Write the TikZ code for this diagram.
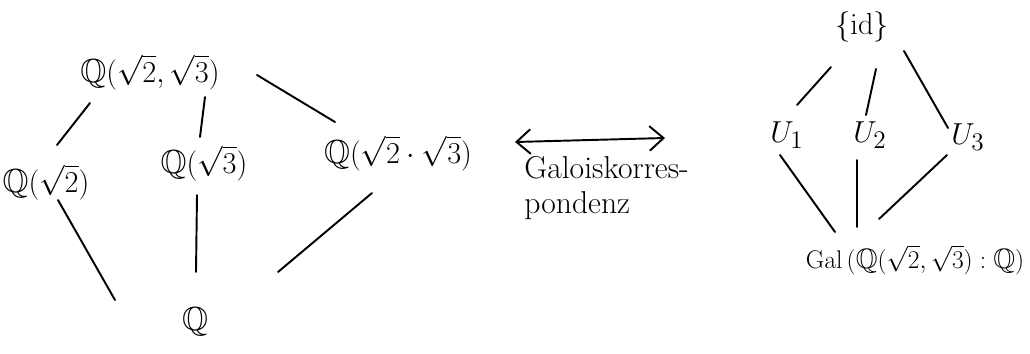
\documentclass[tikz,border=0pt]{standalone}
\usepackage{graphicx}
\usepackage{amssymb}
\usetikzlibrary{arrows.meta,calc}
\begin{document}
\begin{tikzpicture}[x=0.02cm,y=-0.02cm,
  lbl/.style={inner sep=2pt,font=\fontsize{19}{22}\selectfont},
  edge/.style={draw,line width=1.1pt,line cap=round},
  corr/.style={draw,line width=1.1pt,{Straight Barb[length=8pt,width=14pt]}-{Straight Barb[length=8pt,width=14pt]}}]
\useasboundingbox (0,0) rectangle (1030,353);
% left lattice
\node[lbl] (Q23) at (150,72) {$\mathbb{Q}(\sqrt{2},\sqrt{3})$};
\node[lbl] (Q2) at (46,182) {$\mathbb{Q}(\sqrt{2})$};
\node[lbl] (Q3) at (204,163) {$\mathbb{Q}(\sqrt{3})$};
\node[lbl] (Q6) at (398,153) {$\mathbb{Q}(\sqrt{2}\cdot\sqrt{3})$};
\node[lbl] (Q) at (195,322) {$\mathbb{Q}$};
\draw[edge] ($(Q23)+(-60,31)$) -- ($(Q2)+(11,-37)$);
\draw[edge] ($(Q23)+(55,25)$) -- ($(Q3)+(-4,-26)$);
\draw[edge] ($(Q23)+(107,3)$) -- ($(Q6)+(-63,-31)$);
\draw[edge] ($(Q2)+(12,18)$) -- ($(Q)+(-80,-22)$);
\draw[edge] ($(Q3)+(-7,32)$) -- ($(Q)+(1,-50)$);
\draw[edge] ($(Q6)+(-26,40)$) -- ($(Q)+(83,-50)$);
% correspondence
\coordinate (cl) at (515,142);
\coordinate (cr) at (665,138);
\draw[corr] (cl) -- (cr);
\node[font=\fontsize{18}{20}\selectfont,align=left,anchor=north west,inner sep=0pt] (gk) at (524,156) {Galoiskorres-\\pondenz};
% right lattice
\node[lbl] (id) at (862,27) {$\{\mathrm{id}\}$};
\node[lbl] (U1) at (787,135) {$U_1$};
\node[lbl] (U2) at (870,135) {$U_2$};
\node[lbl] (U3) at (968,137) {$U_3$};
\node[lbl] (G) at (915,260) {\scalebox{0.84}{$\mathrm{Gal}\,(\mathbb{Q}(\sqrt{2},\sqrt{3}):\mathbb{Q})$}};
\draw[edge] ($(id)+(-31,40)$) -- ($(U1)+(10,-30)$);
\draw[edge] ($(id)+(14,42)$) -- ($(U2)+(-4,-20)$);
\draw[edge] ($(id)+(42,24)$) -- ($(U3)+(-20,-9)$);
\draw[edge] ($(U1)+(-7,20)$) -- ($(G)+(-80,-28)$);
\draw[edge] ($(U2)+(-13,25)$) -- ($(G)+(-58,-33)$);
\draw[edge] ($(U3)+(-21,18)$) -- ($(G)+(-36,-41)$);
\end{tikzpicture}
\end{document}
